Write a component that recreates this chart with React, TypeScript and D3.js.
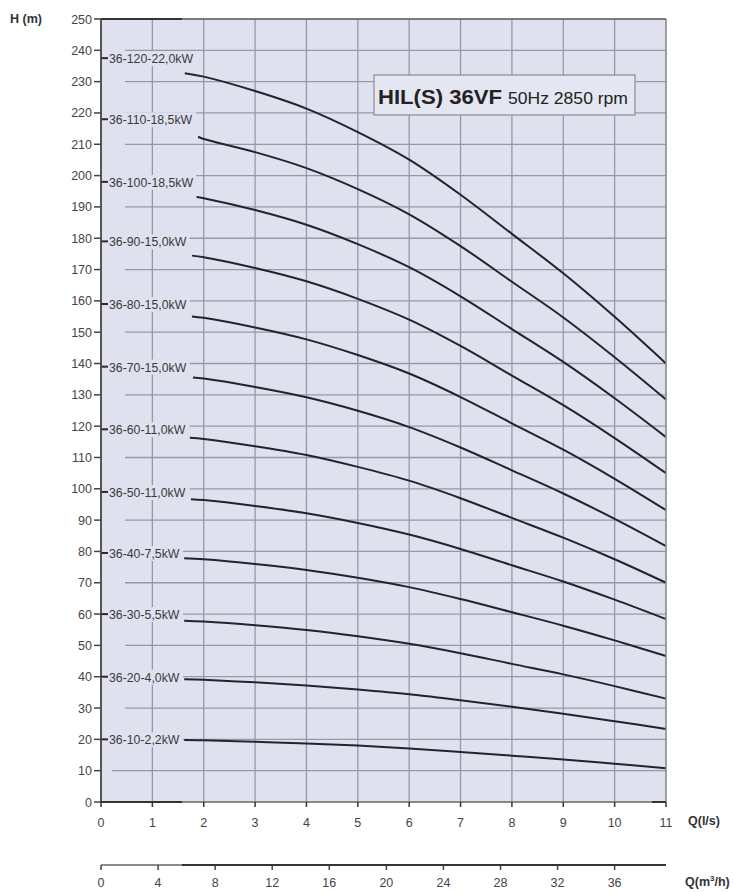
import React from 'react';
import * as d3 from 'd3';

const W = 734;
const H = 892;

// axis ticks
const qTicks = [0, 1, 2, 3, 4, 5, 6, 7, 8, 9, 10, 11];
const hTicks = [0, 10, 20, 30, 40, 50, 60, 70, 80, 90, 100, 110, 120, 130, 140, 150, 160, 170, 180, 190, 200, 210, 220, 230, 240, 250];
const m3hTicks = [0, 4, 8, 12, 16, 20, 24, 28, 32, 36];

// pump models (bottom to top)
const models = ['36-10-2,2kW', '36-20-4,0kW', '36-30-5,5kW', '36-40-7,5kW', '36-50-11,0kW', '36-60-11,0kW',
  '36-70-15,0kW', '36-80-15,0kW', '36-90-15,0kW', '36-100-18,5kW', '36-110-18,5kW', '36-120-22,0kW'];
// where the label dash sits on the H axis
const labelH = [20, 40, 60, 79.5, 99, 119, 139, 159, 179, 198, 218, 237.5];
// first point of each curve (Q l/s, H m)
const startQ = [1.62, 1.62, 1.62, 1.62, 1.75, 1.73, 1.79, 1.77, 1.77, 1.86, 1.89, 1.63];
const startH = [19.8, 39.2, 57.9, 77.85, 96.7, 116.3, 135.55, 155.05, 174.45, 193.2, 212.4, 232.7];

// H values at Q = 2..11 l/s
const qPts = [2, 3, 4, 5, 6, 7, 8, 9, 10, 11];
const h10 = [19.7, 19.2, 18.7, 18.0, 17.1, 16.0, 14.8, 13.6, 12.2, 10.8];
const h20 = [39.0, 38.2, 37.2, 35.9, 34.4, 32.5, 30.4, 28.2, 25.8, 23.3];
const h30 = [57.6, 56.4, 54.9, 52.9, 50.5, 47.5, 44.1, 40.75, 37.0, 33];
const h40 = [77.5, 76.0, 74.1, 71.6, 68.6, 64.8, 60.6, 56.3, 51.6, 46.6];
const h50 = [96.4, 94.5, 92.2, 89.1, 85.4, 80.8, 75.6, 70.4, 64.6, 58.4];
const h60 = [115.9, 113.6, 110.8, 107.0, 102.6, 97.0, 90.7, 84.4, 77.5, 70];
const h70 = [135.2, 132.5, 129.2, 124.9, 119.7, 113.2, 105.9, 98.5, 90.4, 81.7];
const h80 = [154.6, 151.5, 147.7, 142.7, 136.8, 129.3, 120.9, 112.5, 103.2, 93.2];
const h90 = [173.95, 170.5, 166.25, 160.65, 154, 145.6, 136.15, 126.7, 116.2, 105];
const h100 = [192.8, 189.0, 184.3, 178.1, 170.75, 161.45, 151.0, 140.5, 128.9, 116.5];
const h110 = [211.7, 207.5, 202.4, 195.7, 187.65, 177.5, 166.1, 154.7, 142.0, 128.5];
const h120 = [231.6, 227.0, 221.4, 213.9, 205.1, 193.9, 181.4, 168.8, 154.9, 140];
const heads = [h10, h20, h30, h40, h50, h60, h70, h80, h90, h100, h110, h120];

const FONT = '"Liberation Sans", Arial, Helvetica, sans-serif';
const BG = '#dfe1ef';
const GRID = '#9698aa';

export default function App() {
  const x = d3.scaleLinear().domain([0, 11]).range([101, 666]);
  const y = d3.scaleLinear().domain([0, 250]).range([802, 19]);
  const xm = d3.scaleLinear().domain([0, 39.6]).range([101, 666]);

  const line = d3.line<[number, number]>()
    .x(d => x(d[0]))
    .y(d => y(d[1]))
    .curve(d3.curveCatmullRom.alpha(0.5));

  const series = models.map((m, i) => {
    const pts: [number, number][] = [[startQ[i], startH[i]]];
    qPts.forEach((q, j) => pts.push([q, heads[i][j]]));
    return { name: m, pts, lh: labelH[i] };
  });

  return (
    <div style={{ position: 'absolute', left: 0, top: 0 }}>
      <svg width={W} height={H} style={{ display: 'block', background: '#fff' }} fontFamily={FONT}>
        {/* plot background */}
        <rect x={x(0)} y={y(250)} width={x(11) - x(0)} height={y(0) - y(250)} fill={BG} />

        {/* grid */}
        {qTicks.slice(1, -1).map(q => (
          <line key={'vq' + q} x1={x(q)} x2={x(q)} y1={y(250)} y2={y(0)} stroke={GRID} strokeWidth={1.3} />
        ))}
        {hTicks.slice(1, -1).map(h => (
          <line key={'hh' + h} x1={h === 10 ? 112 : 125} x2={x(11)} y1={y(h)} y2={y(h)} stroke={GRID} strokeWidth={1.3} />
        ))}

        {/* label boxes hide the grid behind the text */}
        {series.map(s => (
          <rect key={'lb' + s.name} x={x(0) + 2} y={y(s.lh) - 7} width={s.name.length * 6.55 + 8} height={15} fill={BG} />
        ))}

        {/* curves */}
        {series.map(s => (
          <path key={'c' + s.name} d={line(s.pts) || ''} fill="none" stroke="#23232e" strokeWidth={2} />
        ))}

        {/* labels */}
        {series.map(s => (
          <g key={'l' + s.name}>
            <line x1={x(0)} x2={x(0) + 7} y1={y(s.lh)} y2={y(s.lh)} stroke="#2a2a2a" strokeWidth={2} />
            <text x={x(0) + 8} y={y(s.lh) + 5} fontSize={12.3} fill="#3a3a3a">{s.name}</text>
          </g>
        ))}

        {/* frame */}
        <line x1={x(11)} x2={x(11)} y1={y(250)} y2={y(0)} stroke="#8a8a96" strokeWidth={1.6} />
        <line x1={x(0)} x2={182} y1={y(250)} y2={y(250)} stroke="#333" strokeWidth={2} />
        <line x1={182} x2={x(11)} y1={y(250)} y2={y(250)} stroke="#555" strokeWidth={1.5} />
        <line x1={x(0)} x2={x(0)} y1={y(250)} y2={y(0)} stroke="#444" strokeWidth={1.8} />
        <line x1={x(0)} x2={182} y1={y(0)} y2={y(0)} stroke="#333" strokeWidth={2} />
        <line x1={182} x2={x(11)} y1={y(0)} y2={y(0)} stroke="#666" strokeWidth={1.5} />
        <line x1={652} x2={x(11)} y1={y(0)} y2={y(0)} stroke="#333" strokeWidth={2} />

        {/* H axis */}
        {hTicks.map(h => (
          <g key={'ht' + h}>
            <line x1={94} x2={x(0)} y1={y(h)} y2={y(h)} stroke="#444" strokeWidth={1.5} />
            <text x={92} y={y(h) + 4.5} fontSize={12.5} textAnchor="end" fill="#444">{h}</text>
          </g>
        ))}
        <text x={10} y={23} fontSize={12.5} fontWeight="bold" fill="#333">H (m)</text>

        {/* Q l/s axis */}
        {qTicks.map(q => (
          <g key={'qt' + q}>
            <line x1={x(q)} x2={x(q)} y1={y(0)} y2={y(0) + 5} stroke="#333" strokeWidth={1.5} />
            <text x={x(q)} y={826.5} fontSize={12.5} textAnchor="middle" fill="#444">{q}</text>
          </g>
        ))}
        <text x={688} y={825} fontSize={12.5} fontWeight="bold" fill="#333">Q(l/s)</text>

        {/* Q m3/h axis */}
        <line x1={xm(0)} x2={182} y1={865} y2={865} stroke="#666" strokeWidth={1.5} />
        <line x1={182} x2={xm(39.6)} y1={865} y2={865} stroke="#333" strokeWidth={2} />
        {m3hTicks.map(v => (
          <g key={'mt' + v}>
            <line x1={xm(v)} x2={xm(v)} y1={865} y2={870} stroke="#444" strokeWidth={1.5} />
            <text x={xm(v)} y={886.5} fontSize={12.5} textAnchor="middle" fill="#444">{v}</text>
          </g>
        ))}
        <text x={685} y={886} fontSize={12.5} fontWeight="bold" fill="#333">
          Q(m<tspan dy={-5} fontSize={8}>3</tspan><tspan dy={5}>/h)</tspan>
        </text>

        {/* title box */}
        <rect x={374} y={75} width={261} height={40} fill="#e4e6f1" stroke="#8c8c98" strokeWidth={1.2} />
        <text x={378} y={104} fontSize={20} fontWeight="bold" fill="#222" textLength={124} lengthAdjust="spacingAndGlyphs">HIL(S) 36VF</text>
        <text x={508} y={104} fontSize={17} fill="#222" textLength={120} lengthAdjust="spacingAndGlyphs">50Hz 2850 rpm</text>
      </svg>
    </div>
  );
}
